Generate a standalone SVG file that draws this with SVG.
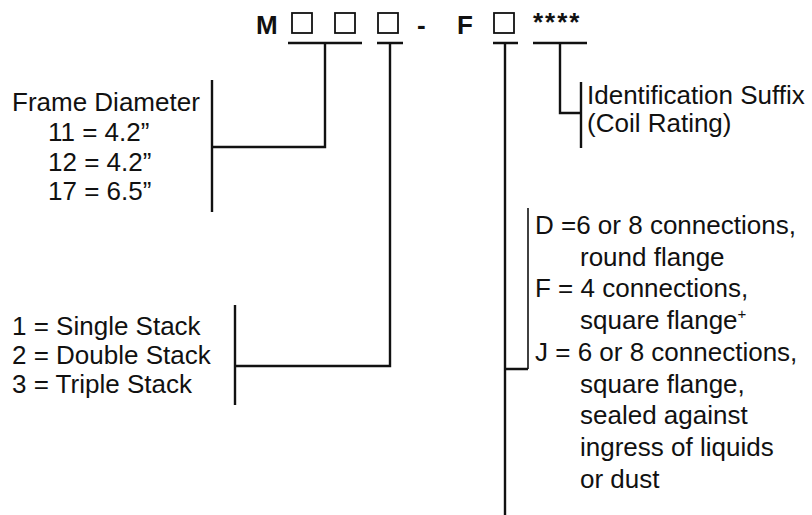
<svg xmlns="http://www.w3.org/2000/svg" width="812" height="515" viewBox="0 0 812 515">
<style>
.t{font-family:"Liberation Sans",Arial,Helvetica,sans-serif;font-size:26px;fill:#111}
.h{font-family:"Liberation Sans",Arial,Helvetica,sans-serif;font-size:26px;font-weight:bold;fill:#111}
.box{fill:none;stroke:#111;stroke-width:1.8}
.ln{fill:none;stroke:#111;stroke-width:2.4}
.th{fill:none;stroke:#111;stroke-width:1.6}
</style>
<rect width="812" height="515" fill="#fff"/>
<g id="header">
<text class="h" x="256" y="34">M</text>
<rect class="box" x="292" y="13" width="20" height="20"/>
<rect class="box" x="335" y="13" width="20" height="20"/>
<rect class="box" x="378" y="13" width="20" height="20"/>
<text class="h" x="417" y="34">-</text>
<text class="h" x="457" y="34">F</text>
<rect class="box" x="494" y="13" width="20" height="20"/>
<text class="h" x="533" y="31" letter-spacing="2">****</text>
</g>
<g id="connectors">
<path class="ln" d="M288 43H362M377 43H403M493 43H518M533 43H587"/>
<path class="ln" d="M325 43V147H212M212 80V212"/>
<path class="ln" d="M390 43V366H235M235 305V405"/>
<path class="ln" d="M505 43V515M505 369H528"/>
<path class="th" d="M528 208V369"/>
<path class="ln" d="M560 43V113H581M581 82V148"/>
</g>
<g id="frame-diameter">
<text class="t" x="12" y="111">Frame Diameter</text>
<text class="t" x="48" y="141">11 = 4.2”</text>
<text class="t" x="48" y="171">12 = 4.2”</text>
<text class="t" x="48" y="200">17 = 6.5”</text>
</g>
<g id="stack">
<text class="t" x="12" y="335">1 = Single Stack</text>
<text class="t" x="12" y="364">2 = Double Stack</text>
<text class="t" x="12" y="393">3 = Triple Stack</text>
</g>
<g id="suffix">
<text class="t" x="587" y="104">Identification Suffix</text>
<text class="t" x="587" y="132">(Coil Rating)</text>
</g>
<g id="flange">
<text class="t" x="535" y="234">D =6 or 8 connections,</text>
<text class="t" x="580" y="266">round flange</text>
<text class="t" x="535" y="297">F = 4 connections,</text>
<text class="t" x="580" y="329">square flange<tspan font-size="15" dy="-10">+</tspan></text>
<text class="t" x="535" y="361">J = 6 or 8 connections,</text>
<text class="t" x="580" y="393">square flange,</text>
<text class="t" x="580" y="424">sealed against</text>
<text class="t" x="580" y="456">ingress of liquids</text>
<text class="t" x="580" y="488">or dust</text>
</g>
</svg>
